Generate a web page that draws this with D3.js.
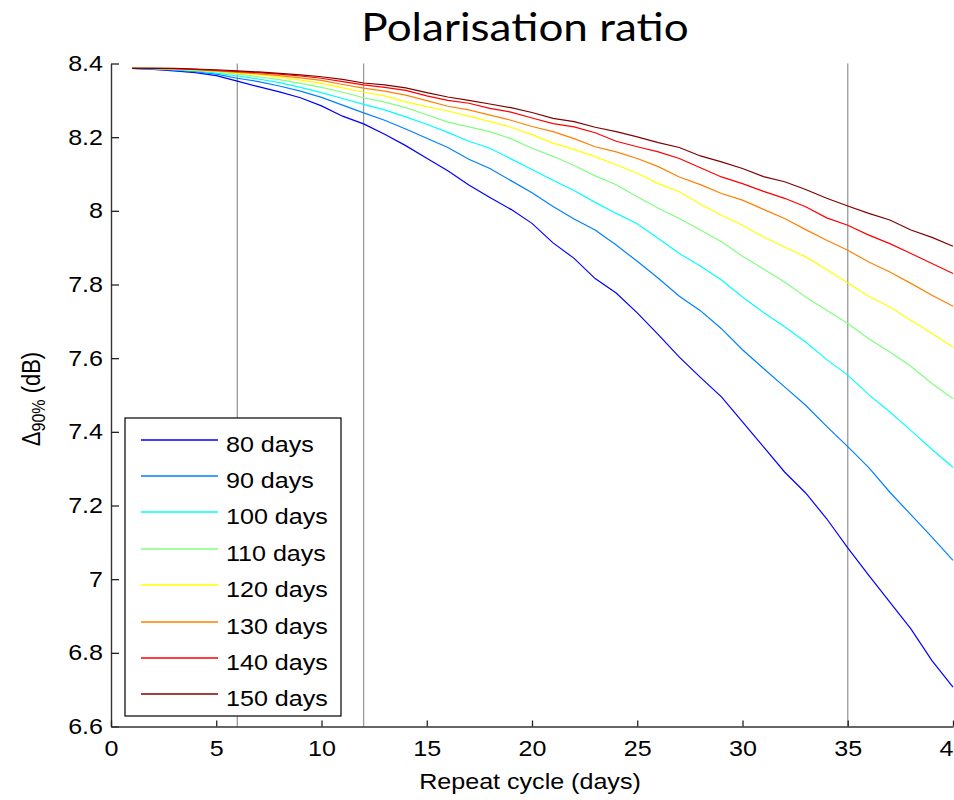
<!DOCTYPE html>
<html><head><meta charset="utf-8">
<script src="https://cdn.jsdelivr.net/npm/d3@7"></script>
<style>
body{margin:0;background:#fff}
svg text{font-family:"Liberation Sans",Arial,sans-serif;fill:#000}
</style>
</head><body>
<svg id="chart" width="954" height="800"></svg>
<script>
// ---- data ----
const repeatCycle = [1,2,3,4,5,6,7,8,9,10,11,12,13,14,15,16,17,18,19,20,21,22,23,24,25,26,27,28,29,30,31,32,33,34,35,36,37,38,39,40];
const days80  = [8.387,8.384,8.380,8.375,8.367,8.352,8.337,8.323,8.307,8.285,8.257,8.236,8.208,8.177,8.143,8.109,8.070,8.036,8.004,7.966,7.913,7.871,7.816,7.777,7.723,7.664,7.603,7.548,7.495,7.427,7.359,7.291,7.234,7.164,7.085,7.010,6.938,6.865,6.779,6.707];
const days90  = [8.387,8.385,8.382,8.378,8.371,8.360,8.351,8.339,8.325,8.308,8.287,8.266,8.246,8.222,8.197,8.172,8.140,8.115,8.082,8.049,8.012,7.978,7.948,7.907,7.863,7.817,7.768,7.729,7.680,7.623,7.572,7.522,7.472,7.415,7.360,7.303,7.236,7.175,7.114,7.051];
const days100 = [8.387,8.386,8.383,8.380,8.374,8.366,8.358,8.348,8.335,8.321,8.305,8.289,8.274,8.255,8.235,8.213,8.189,8.170,8.141,8.112,8.083,8.055,8.023,7.993,7.965,7.925,7.884,7.850,7.812,7.766,7.724,7.685,7.644,7.596,7.554,7.501,7.454,7.404,7.352,7.304];
const days110 = [8.387,8.386,8.384,8.381,8.378,8.371,8.364,8.356,8.346,8.335,8.322,8.307,8.295,8.280,8.261,8.241,8.228,8.215,8.196,8.170,8.148,8.123,8.095,8.071,8.038,8.007,7.979,7.948,7.916,7.877,7.842,7.807,7.766,7.730,7.694,7.653,7.617,7.578,7.531,7.490];
const days120 = [8.387,8.387,8.385,8.382,8.379,8.374,8.370,8.363,8.355,8.346,8.334,8.322,8.312,8.296,8.283,8.271,8.257,8.242,8.227,8.207,8.184,8.167,8.147,8.125,8.102,8.074,8.052,8.018,7.988,7.961,7.929,7.902,7.875,7.841,7.804,7.768,7.739,7.703,7.667,7.630];
const days130 = [8.387,8.387,8.386,8.383,8.380,8.376,8.372,8.367,8.361,8.354,8.343,8.333,8.325,8.314,8.299,8.284,8.274,8.260,8.246,8.229,8.215,8.196,8.174,8.160,8.142,8.120,8.092,8.071,8.047,8.029,8.004,7.979,7.949,7.920,7.893,7.861,7.834,7.803,7.771,7.741];
const days140 = [8.387,8.387,8.386,8.384,8.381,8.378,8.375,8.371,8.366,8.360,8.351,8.342,8.335,8.327,8.312,8.300,8.292,8.278,8.268,8.252,8.237,8.228,8.212,8.189,8.174,8.160,8.142,8.117,8.092,8.074,8.053,8.034,8.011,7.981,7.961,7.934,7.911,7.884,7.857,7.830];
const days150 = [8.387,8.387,8.387,8.385,8.383,8.380,8.377,8.373,8.369,8.364,8.357,8.347,8.342,8.334,8.321,8.309,8.300,8.290,8.280,8.267,8.251,8.242,8.227,8.215,8.201,8.185,8.172,8.149,8.133,8.115,8.093,8.079,8.058,8.034,8.013,7.993,7.975,7.948,7.928,7.904];
const seriesNames  = ["80 days","90 days","100 days","110 days","120 days","130 days","140 days","150 days"];
const seriesColors = ["#0000ff","#0080ff","#00ffff","#80ff80","#ffff00","#ff8000","#ff0000","#800000"];
const gridLinesX = [6,12,35];
const xTickValues = [0,5,10,15,20,25,30,35,40];
const yTickValues = [6.6,6.8,7.0,7.2,7.4,7.6,7.8,8.0,8.2,8.4];
const titleText = "Polarisation ratio";
const xLabel = "Repeat cycle (days)";

const allSeries = [days80,days90,days100,days110,days120,days130,days140,days150];
const legendItems = seriesNames.map((n,i)=>({name:n,color:seriesColors[i],idx:i}));

// ---- layout ----
const SX = 1.14; // horizontal stretch of text glyphs in the reference
const svg = d3.select("#chart");
const x = d3.scaleLinear().domain([0,40]).range([111,953]);
const y = d3.scaleLinear().domain([6.6,8.4]).range([726.5,63.5]);

// grid lines
svg.append("g").selectAll("line").data(gridLinesX).join("line")
  .attr("x1",d=>x(d)).attr("x2",d=>x(d))
  .attr("y1",y(8.4)).attr("y2",y(6.6))
  .attr("stroke","#9a9a9a").attr("stroke-width",1.3);

// lines
const line = d3.line().x((d,i)=>x(repeatCycle[i])).y(d=>y(d));
svg.append("g").selectAll("path").data(allSeries).join("path")
  .attr("d",d=>line(d))
  .attr("fill","none")
  .attr("stroke",(d,i)=>seriesColors[i])
  .attr("stroke-width",1.2);

function stretchTicks(g){
  g.selectAll("text").each(function(){
    const t=d3.select(this);
    const xv=+(t.attr("x")||0);
    t.attr("x",xv/SX).attr("transform",`scale(${SX},1)`);
  });
}

// axes
const yAxis = d3.axisLeft(y).tickValues(yTickValues)
  .tickSizeInner(-8).tickSizeOuter(0).tickPadding(8)
  .tickFormat(d=>String(+d.toFixed(1)));
const gy = svg.append("g").attr("transform",`translate(${x(0)},0)`).call(yAxis);
gy.selectAll("text").attr("font-size",22).attr("font-family","Liberation Sans, Arial, sans-serif");
stretchTicks(gy);

const xAxis = d3.axisBottom(x).tickValues(xTickValues)
  .tickSizeInner(-6).tickSizeOuter(0).tickPadding(14)
  .tickFormat(d3.format("d"));
const gx = svg.append("g").attr("transform",`translate(0,${y(6.6)})`).call(xAxis);
gx.selectAll("text").attr("font-size",22).attr("font-family","Liberation Sans, Arial, sans-serif");
stretchTicks(gx);

[gx,gy].forEach(g=>{
  g.select(".domain").attr("stroke","#333").attr("stroke-width",1.4);
  g.selectAll(".tick line").attr("stroke","#222").attr("stroke-width",1.3);
});

// title
svg.append("text")
  .attr("transform","translate(525,41) scale(1.13,1)")
  .attr("text-anchor","middle")
  .style("font-family","Lato, 'Open Sans', sans-serif")
  .attr("font-size",39).text(titleText);

// x label
svg.append("text")
  .attr("transform",`translate(530,789) scale(${SX},1)`)
  .attr("text-anchor","middle").attr("font-size",22).text(xLabel);

// y label
const yl = svg.append("text")
  .attr("transform",`translate(40,399) rotate(-90) scale(1,${SX})`)
  .attr("text-anchor","middle").attr("font-size",22);
yl.append("tspan").text("\u0394");
yl.append("tspan").attr("font-size",16).attr("dy",4).text("90%");
yl.append("tspan").attr("dy",-4).text(" (dB)");

// legend
const leg = svg.append("g");
leg.append("rect").attr("x",125).attr("y",418).attr("width",216).attr("height",298)
  .attr("fill","#fff").attr("stroke","#000").attr("stroke-width",1.2);
const rows = leg.selectAll("g.row").data(legendItems).join("g").attr("class","row")
  .attr("transform",d=>`translate(0,${Math.round(439.5+d.idx*36.4)})`);
rows.append("line").attr("x1",141).attr("x2",218).attr("y1",0).attr("y2",0)
  .attr("stroke",d=>d.color).attr("stroke-width",1.6);
rows.append("text").attr("transform",`translate(226,11.5) scale(${SX},1)`)
  .attr("font-size",22).text(d=>d.name);
</script>
</body></html>
